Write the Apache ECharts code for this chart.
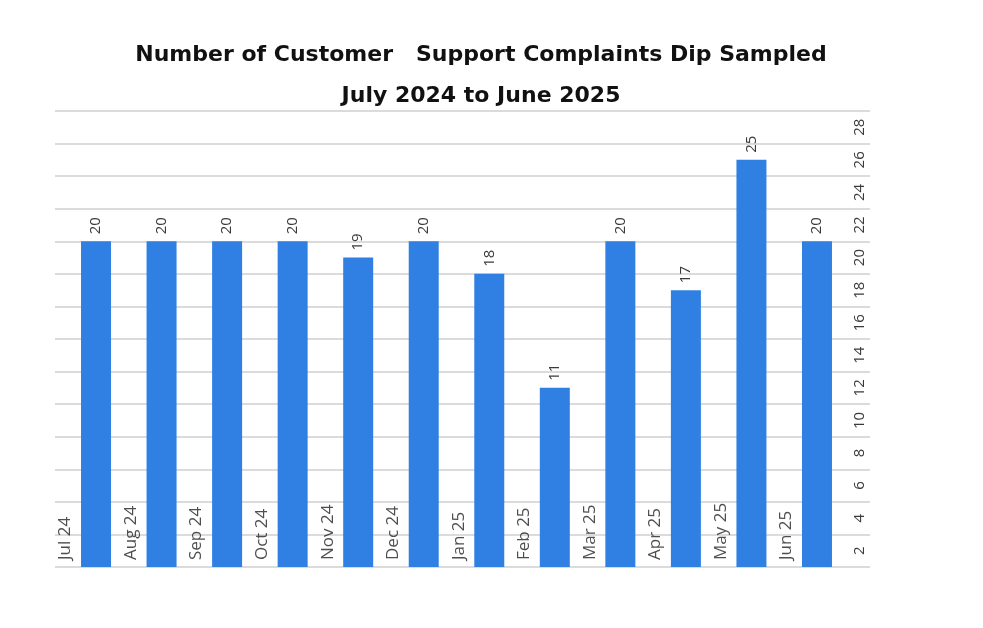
<!DOCTYPE html>
<html><head><meta charset="utf-8">
<script src="https://cdn.jsdelivr.net/npm/echarts@6/dist/echarts.min.js"></script>
<style>html,body{margin:0;padding:0;background:#fff}#c{width:983px;height:628px}</style>
</head><body><div id="c"></div>
<script>
const titleLines = ['Number of Customer   Support Complaints Dip Sampled', 'July 2024 to June 2025'];
const months = ['Jul 24','Aug 24','Sep 24','Oct 24','Nov 24','Dec 24','Jan 25','Feb 25','Mar 25','Apr 25','May 25','Jun 25'];
const complaints = [20,20,20,20,19,20,18,11,20,17,25,20];
const yTickLabels = [2,4,6,8,10,12,14,16,18,20,22,24,26,28];

const chart = echarts.init(document.getElementById('c'), null, {renderer:'canvas'});
const font = 'Open Sans';
chart.setOption({
  animation: false,
  backgroundColor: '#ffffff',
  title: {
    text: titleLines.join('\n'),
    left: 476, top: 30, textAlign: 'center',
    textStyle: {fontFamily: 'DejaVu Sans', fontWeight: 'bold', fontSize: 22, color: '#111', lineHeight: 41}
  },
  grid: [
    {left: 63.25, right: 133.25, top: 111, bottom: 61},
    {left: 55, right: 113, top: 111, bottom: 61}
  ],
  xAxis: [
    {type: 'category', gridIndex: 0, data: months, axisLine:{show:false}, axisTick:{show:false}, axisLabel:{show:false}},
    {type: 'value', gridIndex: 1, show: false, min: 0, max: 1}
  ],
  yAxis: [
    {type: 'value', gridIndex: 0, min: 0, max: 28, show: false},
    {type: 'value', gridIndex: 1, min: 0, max: 28, interval: 2, position: 'right',
     axisLine:{show:false}, axisTick:{show:false}, axisLabel:{show:false},
     splitLine:{show:true, lineStyle:{color:'#cfcfcf', width:1.5}}},
    {type: 'value', gridIndex: 1, min: 1, max: 29, interval: 1, position: 'right',
     axisLine:{show:false}, axisTick:{show:false}, splitLine:{show:false},
     axisLabel:{inside: true, rotate: 90, margin: 3, fontFamily: font, fontSize: 15, color: '#3a3a3a',
       formatter: v => yTickLabels.indexOf(v) >= 0 ? String(v) : ''}}
  ],
  series: [
    {type: 'bar', xAxisIndex: 0, yAxisIndex: 0, data: complaints, barWidth: 30,
     itemStyle: {color: '#2f80e2'},
     label: {show: true, position: 'top', distance: 7, rotate: 90, align: 'left', verticalAlign: 'middle',
       fontFamily: font, fontSize: 15, color: '#3a3a3a'}},
    {type: 'scatter', xAxisIndex: 0, yAxisIndex: 0, symbolSize: 0,
     data: months.map(m => [m, 0]),
     label: {show: true, position: 'inside', rotate: 90, align: 'left', verticalAlign: 'middle',
       offset: [7, -30.5], fontFamily: font, fontSize: 17, color: '#222222',
       formatter: p => p.data[0]}}
  ]
});
</script></body></html>
